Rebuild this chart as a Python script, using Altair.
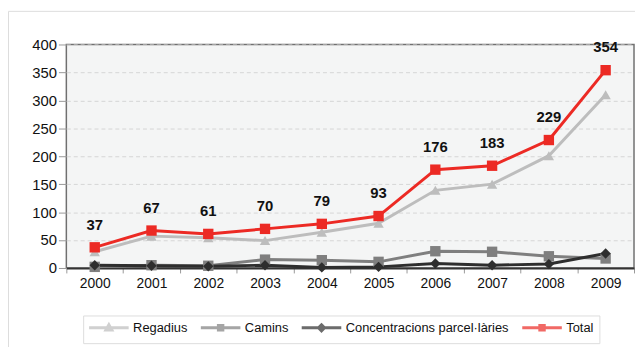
import altair as alt
import pandas as pd

years = ["2000", "2001", "2002", "2003", "2004", "2005", "2006", "2007", "2008", "2009"]
regadius = [29, 57, 54, 49, 64, 80, 139, 150, 201, 310]
camins = [2, 5, 4, 15, 14, 11, 30, 29, 21, 17]
concentracions = [5, 4, 3, 5, 1, 2, 8, 5, 7, 26]
total = [37, 67, 61, 70, 79, 93, 176, 183, 229, 354]

series = ["Regadius", "Camins", "Concentracions parcel·làries", "Total"]
colors = ["#bdbdbd", "#7f7f7f", "#2e2e2e", "#ec2a24"]
shapes = ["triangle-up", "square", "diamond", "square"]
legend_paths = [
    "M-4,0H4M0,-0.6L0.6,0.45L-0.6,0.45Z",
    "M-4,0H4M-0.45,-0.45H0.45V0.45H-0.45Z",
    "M-4,0H4M0,-0.6L0.6,0L0,0.6L-0.6,0Z",
    "M-4,0H4M-0.45,-0.45H0.45V0.45H-0.45Z",
]
y_ticks = [0, 50, 100, 150, 200, 250, 300, 350, 400]
unit_label = "Millions d'euros"

rows = []
for name, vals in zip(series, [regadius, camins, concentracions, total]):
    for yr, v in zip(years, vals):
        rows.append({"year": yr, "serie": name, "value": v})
df = pd.DataFrame(rows)

FONT = "Liberation Sans"

x_enc = alt.X(
    "year:O",
    scale=alt.Scale(type="band", paddingInner=0, paddingOuter=0),
    bandPosition=0.5,
    axis=alt.Axis(
        title=None, labelAngle=0, tickBand="extent", tickSize=5, tickColor="#999999",
        domainColor="#333333", domainWidth=2, labelFont=FONT, labelFontSize=14,
        labelColor="#111111", labelPadding=4, grid=False,
    ),
)
y_enc = alt.Y(
    "value:Q",
    scale=alt.Scale(domain=[0, 400], nice=False),
    axis=alt.Axis(
        title=None, values=y_ticks, grid=True, gridDash=[4, 3], gridColor="#d6d6d6",
        domain=False, tickSize=8, tickColor="#999999", labelFont=FONT,
        labelFontSize=15, labelColor="#111111", labelPadding=2,
    ),
)
color_enc = alt.Color("serie:N", scale=alt.Scale(domain=series, range=colors), legend=None)

base = alt.Chart(df)

lines = base.mark_line(strokeWidth=3).encode(x=x_enc, y=y_enc, color=color_enc)
points = base.mark_point(filled=True, size=110, opacity=1).encode(
    x=x_enc, y=y_enc, color=color_enc,
    shape=alt.Shape("serie:N", scale=alt.Scale(domain=series, range=shapes), legend=None),
)
labels = base.transform_filter(alt.datum.serie == "Total").mark_text(
    dy=-23, fontSize=15, fontWeight="bold", font=FONT, color="#111111"
).encode(x=x_enc, y=y_enc, text="value:Q")

leg = alt.Legend(
    title=None, orient="none", legendX=17, legendY=274, direction="horizontal",
    columns=4, symbolSize=100, symbolStrokeWidth=3, symbolOffset=13.5,
    labelOffset=18, labelFont=FONT, labelFontSize=13, labelColor="#111111",
    labelLimit=400, padding=6, strokeColor="#dddddd", fillColor="#ffffff",
    columnPadding=7, cornerRadius=0, gridAlign="none",
)
legend_layer = base.transform_filter("false").mark_point(filled=True).encode(
    x=x_enc, y=y_enc,
    fill=alt.Fill("serie:N", scale=alt.Scale(domain=series, range=colors), legend=leg),
    stroke=alt.Stroke("serie:N", scale=alt.Scale(domain=series, range=colors), legend=leg),
    shape=alt.Shape("serie:N", scale=alt.Scale(domain=series, range=legend_paths), legend=leg),
)

one = pd.DataFrame({"a": [0]})
outer_box = alt.Chart(one).mark_rect(fillOpacity=0, stroke="#dddddd", strokeWidth=1).encode(
    x=alt.value(-58.5), x2=alt.value(700), y=alt.value(-33.5), y2=alt.value(400)
)
unit_text = alt.Chart(one).mark_text(
    align="left", baseline="alphabetic", fontSize=13, font=FONT, color="#111111"
).encode(x=alt.value(-59), y=alt.value(-39), text=alt.value(unit_label))

chart = alt.layer(outer_box, unit_text, lines, points, labels, legend_layer).resolve_scale(
    fill="independent", stroke="independent", shape="independent"
).properties(
    width=574, height=226,
    autosize=alt.AutoSizeParams(type="none"),
    padding={"left": 59, "top": 35, "right": 1, "bottom": 78},
).configure_view(
    fill="#f4f5f5", stroke="#707070", strokeWidth=1.5
)

chart.save("out.html", embed_options={"renderer": "svg", "actions": False})
